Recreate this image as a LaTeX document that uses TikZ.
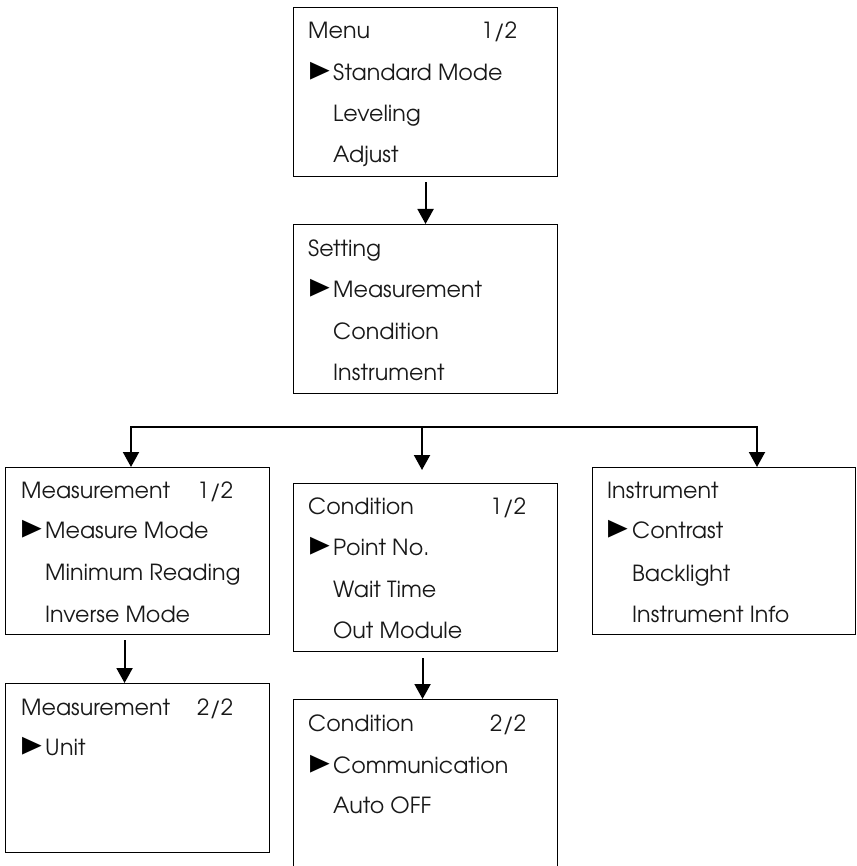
\documentclass[tikz,border=0pt]{standalone}
\usepackage{fontspec}
\setmainfont{TeX Gyre Adventor}
\newfontfamily\dejavu{DejaVu Sans}
\usetikzlibrary{arrows.meta}
\newcommand{\ptrglyph}{\scalebox{0.8}[1.12]{►}}
\begin{document}
\begin{tikzpicture}[x=1pt,y=-1pt,
  box/.style={draw=black,line width=1.1pt,anchor=north west,inner sep=0pt},
  txt/.style={anchor=base west,inner sep=0pt,font=\fontsize{22.2}{27}\selectfont,text=black!90},
  ptr/.style={anchor=base west,inner sep=0pt,font=\dejavu\fontsize{32}{36}\selectfont,text=black},
  arr/.style={line width=2pt,-{Triangle[width=16pt,length=15pt]}},
  bus/.style={line width=1.3pt}]
\clip (0,0) rectangle (856,866);
\fill[white] (0,0) rectangle (856,866);
% boxes
\node[box,minimum width=264pt,minimum height=169pt] (menu) at (293,7) {};
\node[box,minimum width=264pt,minimum height=169pt] (setting) at (293,224) {};
\node[box,minimum width=264pt,minimum height=167pt] (meas1) at (5,467) {};
\node[box,minimum width=264pt,minimum height=169pt] (meas2) at (5,683) {};
\node[box,minimum width=264pt,minimum height=168pt] (cond1) at (293,483) {};
\node[box,minimum width=264pt,minimum height=190pt] (cond2) at (293,699) {};
\node[box,minimum width=263pt,minimum height=167pt] (instr) at (592,467) {};
% Menu
\node[txt] (menuT) at (308,39) {Menu};
\node[txt] (menuP) at (481,39) {1/2};
\node[ptr] (menuA) at (310,81) {\ptrglyph};
\node[txt] (menu1) at (333,81) {Standard Mode};
\node[txt] (menu2) at (333,122) {Leveling};
\node[txt] (menu3) at (333,163) {Adjust};
% Setting
\node[txt] (setT) at (308,257) {Setting};
\node[ptr] (setA) at (310,298) {\ptrglyph};
\node[txt] (set1) at (333,298) {Measurement};
\node[txt] (set2) at (333,339) {Condition};
\node[txt] (set3) at (333,380) {Instrument};
% Measurement 1/2
\node[txt] (m1T) at (21,498) {Measurement};
\node[txt] (m1P) at (197,498) {1/2};
\node[ptr] (m1A) at (22,538) {\ptrglyph};
\node[txt] (m11) at (45,538) {Measure Mode};
\node[txt] (m12) at (45,580) {Minimum Reading};
\node[txt] (m13) at (45,622) {Inverse Mode};
% Measurement 2/2
\node[txt] (m2T) at (21,715) {Measurement};
\node[txt] (m2P) at (197,715) {2/2};
\node[ptr] (m2A) at (22,755) {\ptrglyph};
\node[txt] (m21) at (45,755) {Unit};
% Condition 1/2
\node[txt] (c1T) at (308,514) {Condition};
\node[txt] (c1P) at (490,514) {1/2};
\node[ptr] (c1A) at (310,555) {\ptrglyph};
\node[txt] (c11) at (333,555) {Point No.};
\node[txt] (c12) at (333,597) {Wait Time};
\node[txt] (c13) at (333,638) {Out Module};
% Condition 2/2
\node[txt] (c2T) at (308,731) {Condition};
\node[txt] (c2P) at (490,731) {2/2};
\node[ptr] (c2A) at (310,773) {\ptrglyph};
\node[txt] (c21) at (333,773) {Communication};
\node[txt] (c22) at (333,813) {Auto OFF};
% Instrument
\node[txt] (iT) at (607,498) {Instrument};
\node[ptr] (iA) at (608,538) {\ptrglyph};
\node[txt] (i1) at (632,538) {Contrast};
\node[txt] (i2) at (632,581) {Backlight};
\node[txt] (i3) at (632,622) {Instrument Info};
% connectors
\coordinate (busL) at (131,427);
\coordinate (busM) at (422,427);
\coordinate (busR) at (757,427);
\coordinate (midTip) at (422,470);
\draw[bus] (busL) -- (busR);
\draw[arr] ([yshift=-5pt]menu.south) -- (setting.north);
\draw[arr] ([yshift=0.65pt]busL) -- (busL |- meas1.north);
\draw[arr] ([yshift=0.65pt]busM) -- (midTip);
\draw[arr] ([yshift=0.65pt]busR) -- (busR |- instr.north);
\draw[arr] ([xshift=-13pt,yshift=-5pt]meas1.south) -- ([xshift=-13pt]meas2.north);
\draw[arr] ([xshift=-3pt,yshift=-6pt]cond1.south) -- ([xshift=-3pt]cond2.north);
\end{tikzpicture}
\end{document}
